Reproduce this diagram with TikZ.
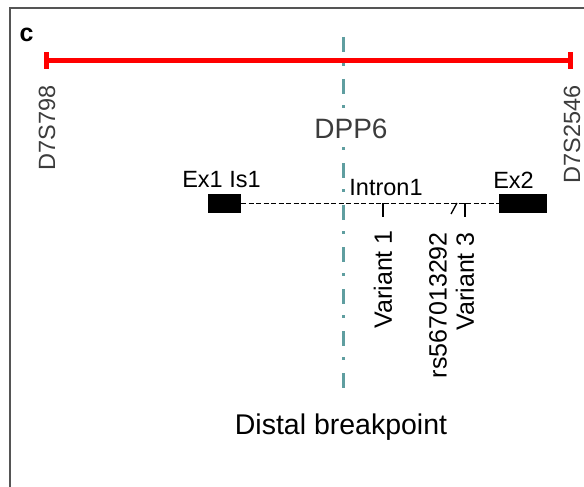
\documentclass[tikz,border=0pt]{standalone}
\usepackage{fontspec}
\setmainfont{Liberation Sans}
\definecolor{breakteal}{RGB}{95,158,160}
\definecolor{labelgray}{RGB}{60,60,60}
\definecolor{framegray}{RGB}{85,85,85}
\definecolor{barred}{RGB}{255,0,0}
\tikzset{
  lbl/.style={inner sep=0pt, font=\fontsize{23.5}{28}\selectfont},
  varlbl/.style={inner sep=0pt, rotate=90, anchor=east, font=\fontsize{25}{30}\selectfont},
  mkrlbl/.style={inner sep=0pt, rotate=90, anchor=east, text=labelgray, font=\fontsize{23.5}{28}\selectfont},
  capbox/.style={fill=barred, draw=none, minimum width=5pt, minimum height=17pt, inner sep=0pt},
  exonbox/.style={fill=black, draw=none, minimum height=19pt, inner sep=0pt},
  breakline/.style={breakteal, line width=3pt, dash pattern=on 15pt off 11pt on 3pt off 13pt},
  intron/.style={black, line width=1pt, dash pattern=on 5pt off 2.5pt},
  tickline/.style={black, line width=1.3pt},
}
\begin{document}
\begin{tikzpicture}[x=1pt,y=-1pt]
\useasboundingbox (0,0) rectangle (584,487);
% frame
\coordinate (fb) at (9.5,490);
\coordinate (fc) at (9.5,8.5);
\coordinate (fr) at (590,8.5);
\draw[framegray, line width=2pt] (fb) -- (fc) -- (fr);
% panel letter
\node[inner sep=0pt, anchor=base west, font=\fontsize{25}{30}\selectfont\bfseries] (panel) at (19.5,41.5) {c};
% red bar
\node[capbox] (capL) at (46,61) {};
\node[capbox] (capR) at (570.5,61) {};
\draw[barred, line width=5pt] (capL.center) -- (capR.center);
\node[mkrlbl] (m1) at (47,85) {D7S798};
\node[mkrlbl] (m2) at (572,85) {D7S2546};
% breakpoint line
\coordinate (bt) at (343,37);
\coordinate (bb) at (343,396);
\draw[breakline] (bt) -- (bb);
\node[fill=white, inner xsep=1pt, inner ysep=7pt, anchor=base, text=labelgray, font=\fontsize{28}{32}\selectfont] (dpp6) at (351,138) {DPP6};
\node[inner sep=0pt, anchor=base, font=\fontsize{28.5}{32}\selectfont] (distal) at (341,434) {Distal breakpoint};
% gene
\node[exonbox, minimum width=33pt] (ex1) at (224.5,203.5) {};
\node[exonbox, minimum width=48pt] (ex2) at (523,203.5) {};
\draw[intron] (ex1.east) -- (ex2.west);
\node[lbl] (ex1lbl) at (221.5,180) {Ex1 Is1};
\node[lbl] (intronlbl) at (386,187.5) {Intron1};
\node[lbl] (ex2lbl) at (513.5,180) {Ex2};
% variants
\coordinate (v1a) at (383,203);
\coordinate (v1b) at (383,217);
\draw[tickline] (v1a) -- (v1b);
\coordinate (v3a) at (465,203);
\coordinate (v3b) at (465,217);
\draw[tickline] (v3a) -- (v3b);
\coordinate (rsa) at (451,214);
\coordinate (rsb) at (457,203);
\draw[tickline] (rsa) -- (rsb);
\node[varlbl] (v1) at (383,230) {Variant 1};
\node[varlbl] (rs) at (438,232) {rs567013292};
\node[varlbl] (v3) at (465,232) {Variant 3};
\end{tikzpicture}
\end{document}
